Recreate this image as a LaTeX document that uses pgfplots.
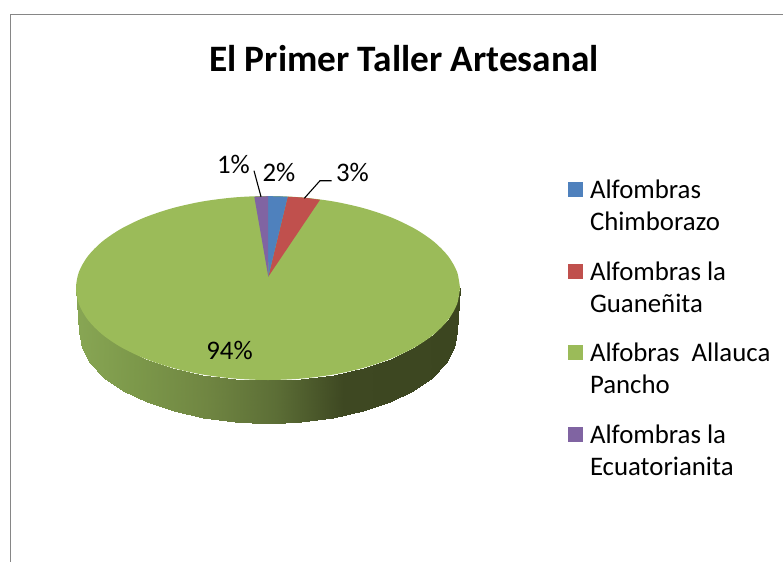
\documentclass[border=0pt]{standalone}
\usepackage{pgfplots}
\pgfplotsset{compat=1.18}
\usepackage{fontspec}
\setmainfont{Carlito}
\definecolor{cblue}{HTML}{4F81BD}
\definecolor{cred}{HTML}{C0504D}
\definecolor{cgreen}{HTML}{9BBB59}
\definecolor{cpurple}{HTML}{8064A2}
\definecolor{cframe}{HTML}{868686}
\newcommand{\lgentry}[2]{\parbox[t]{190bp}{\fontsize{26.8bp}{32bp}\selectfont\hspace*{5bp}\mbox{#1}\\\hspace*{5bp}\mbox{#2}}}
\pgfplotsset{sq/.style={legend image code/.code={\fill[##1,draw=none] (0bp,-7bp) rectangle (15bp,8bp);}}}
\begin{document}
\begin{tikzpicture}
\begin{axis}[
  width=783bp,height=562bp,scale only axis,
  xmin=0,xmax=783,ymin=0,ymax=562,y dir=reverse,
  hide axis,clip=true,
  colormap={side}{rgb255(0)=(136,166,84); rgb255(60)=(124,152,74); rgb255(130)=(112,134,66); rgb255(200)=(92,110,54); rgb255(267)=(62,72,34); rgb255(384)=(60,70,32)},
  legend style={at={(axis cs:568,178)},anchor=north west,draw=none,fill=none,
    inner sep=0pt,outer sep=0pt,row sep=57.5bp,
    /tikz/every even column/.append style={column sep=13bp},
    cells={anchor=base west}},
  legend cell align=left,
]
\addlegendimage{sq,cblue}\addlegendentry{\lgentry{Alfombras}{Chimborazo}}
\addlegendimage{sq,cred}\addlegendentry{\lgentry{Alfombras la}{Guaneñita}}
\addlegendimage{sq,cgreen}\addlegendentry{\lgentry{Alfobras\ \ Allauca}{Pancho}}
\addlegendimage{sq,cpurple}\addlegendentry{\lgentry{Alfombras la}{Ecuatorianita}}
% frame
\addplot[cframe,line width=1.3bp,no marks,forget plot] coordinates {(10.8,562)(10.8,14.8)(783,14.8)};
% side of the pie
\addplot[surf,shader=interp,forget plot,mesh/rows=2,point meta=x] coordinates {
(76,288)(78.9,304)(87.6,319.5)(101.7,334)(120.9,347.1)(144.6,358.5)(172,367.7)(202.3,374.5)(234.7,378.6)(268,380)(301.3,378.6)(333.7,374.5)(364,367.7)(391.4,358.5)(415.1,347.1)(434.3,334)(448.4,319.5)(457.1,304)(460,288)
(79,332)(81.9,347.9)(90.4,363.3)(104.3,377.8)(123.2,390.8)(146.5,402.1)(173.5,411.2)(203.4,418)(235.2,422.1)(268,423.5)(300.8,422.1)(332.6,418)(362.5,411.2)(389.5,402.1)(412.8,390.8)(431.7,377.8)(445.6,363.3)(454.1,347.9)(457,332)
};
% top of the pie: green (94%)
\addplot[fill=cgreen,draw=none,smooth,forget plot] coordinates {
(460,288)(457.1,304)(448.4,319.5)(434.3,334)(415.1,347.1)(391.4,358.5)(364,367.7)(333.7,374.5)(301.3,378.6)(268,380)(234.7,378.6)(202.3,374.5)(172,367.7)(144.6,358.5)(120.9,347.1)(101.7,334)(87.6,319.5)(78.9,304)(76,288)(78.9,272)(87.6,256.5)(101.7,242)(120.9,228.9)(144.6,217.5)(172,208.3)(202.3,201.5)(234.7,197.4)(268,196)(301.3,197.4)(333.7,201.5)(364,208.3)(391.4,217.5)(415.1,228.9)(434.3,242)(448.4,256.5)(457.1,272)(460,288)};
% wedges
\addplot[fill=cred,draw=none,forget plot] coordinates {(268.3,276.7)(287.7,196.7)(304,197.6)(320,199.8)} --cycle;
\addplot[fill=cblue,draw=none,forget plot] coordinates {(268.3,276.7)(268,196.2)(278,196.3)(287.7,196.7)} --cycle;
\addplot[fill=cpurple,draw=none,forget plot] coordinates {(268.3,276.7)(254.3,196.8)(261,196.4)(268,196.2)} --cycle;
% leaders
\addplot[black,line width=1.1bp,no marks,forget plot] coordinates {(254,170.7)(261,196.7)};
\addplot[black,line width=1.1bp,no marks,forget plot] coordinates {(331.7,180.7)(320,180.7)(304.3,198.3)};
\node[font=\fontsize{37.3bp}{42bp}\selectfont\bfseries] at (axis cs:404,59) {El Primer Taller Artesanal};
\node[font=\fontsize{26.8bp}{30bp}\selectfont] at (axis cs:233.5,164) {1\%};
\node[font=\fontsize{26.8bp}{30bp}\selectfont] at (axis cs:279,172) {2\%};
\node[font=\fontsize{26.8bp}{30bp}\selectfont] at (axis cs:352.5,172) {3\%};
\node[font=\fontsize{26.8bp}{30bp}\selectfont] at (axis cs:229.5,350) {94\%};
\end{axis}
\useasboundingbox (0,0) rectangle (783bp,562bp);
\end{tikzpicture}
\end{document}
